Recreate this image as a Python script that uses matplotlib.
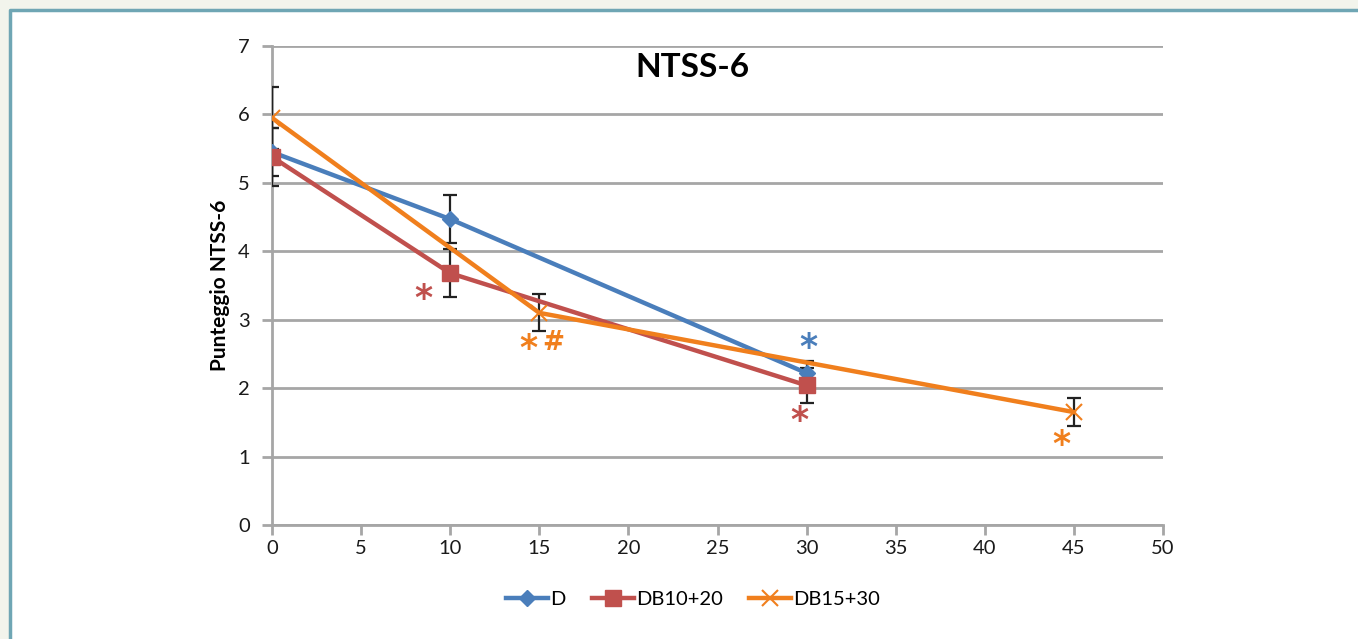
import matplotlib
matplotlib.use("Agg")
import matplotlib.pyplot as plt
from matplotlib.lines import Line2D

# Data
d_x = [0, 10, 30]
d_y = [5.45, 4.47, 2.22]
d_err = [0.35, 0.35, 0.18]

db1020_x = [0, 10, 30]
db1020_y = [5.38, 3.68, 2.04]
db1020_err = [0.42, 0.35, 0.26]

db1530_x = [0, 15, 45]
db1530_y = [5.95, 3.10, 1.65]
db1530_err = [0.45, 0.27, 0.21]

# significance marks: (x, y, text, series)
marks = [
    (8.5, 3.3, "*", "red"),
    (14.4, 2.57, "*", "orange"),
    (15.8, 2.66, "#", "orange"),
    (30.1, 2.58, "*", "blue"),
    (29.6, 1.52, "*", "red"),
    (44.3, 1.17, "*", "orange"),
]

blue = "#4a7ebb"
red = "#c0504d"
orange = "#f07f1d"
colors = {"blue": blue, "red": red, "orange": orange}

plt.rcParams['font.family'] = ['Lato', 'DejaVu Sans']

fig = plt.figure(figsize=(13.58, 6.39), dpi=100)
fig.patch.set_facecolor("white")
# light margin strip and teal frame on the top and left
fig.patches.append(plt.Rectangle((0, 0), 10 / 1358, 1, transform=fig.transFigure,
                                 facecolor="#f2f4ec", edgecolor="none", zorder=-5))
fig.patches.append(plt.Rectangle((0, 1 - 10 / 639), 1, 10 / 639, transform=fig.transFigure,
                                 facecolor="#f2f4ec", edgecolor="none", zorder=-5))
fig.lines.append(Line2D([10 / 1358, 10 / 1358, 1.05], [-0.05, 1 - 10 / 639, 1 - 10 / 639],
                        transform=fig.transFigure, color="#6fa6b4", lw=2.5))

ax = fig.add_axes([272 / 1358, 1 - 525 / 639, (1163 - 272) / 1358, (525 - 46) / 639])
ax.set_facecolor("white")

# error bars first
for x, y, e in [(d_x, d_y, d_err), (db1020_x, db1020_y, db1020_err), (db1530_x, db1530_y, db1530_err)]:
    ax.errorbar(x, y, yerr=e, fmt="none", ecolor="#222222", elinewidth=1.6,
                capsize=5, capthick=1.6, zorder=3)

ax.plot(d_x, d_y, color=blue, lw=3.2, marker="D", ms=8, label="D", zorder=4)
ax.plot(db1020_x, db1020_y, color=red, lw=3.2, marker="s", ms=12, label="DB10+20", zorder=4)
ax.plot(db1530_x, db1530_y, color=orange, lw=3.2, marker="x", ms=12, mew=1.5,
        label="DB15+30", zorder=5)

for x, y, t, c in marks:
    size = 25 if t == "*" else 19
    ax.text(x, y, t, color=colors[c], fontsize=size, fontweight="bold",
            ha="center", va="center", family=["DejaVu Sans"])

ax.text(23.6, 6.68, "NTSS-6", fontsize=24, fontweight="bold", ha="center", va="center")

ax.set_xlim(0, 50)
ax.set_ylim(0, 7)
ax.set_xticks(range(0, 51, 5))
ax.set_yticks(range(0, 8))
ax.grid(axis="y", color="#a6a6a6", lw=2)
ax.set_axisbelow(True)
for s in ["top", "right"]:
    ax.spines[s].set_visible(False)
for s in ["left", "bottom"]:
    ax.spines[s].set_color("#a6a6a6")
    ax.spines[s].set_linewidth(2)
ax.tick_params(axis="both", color="#a6a6a6", width=2, length=7, labelsize=14.5,
               labelcolor="#1a1a1a")
ax.tick_params(axis="y", pad=9)
ax.set_ylabel("Punteggio NTSS-6", fontsize=15, fontweight="bold", labelpad=6)

ax.legend(loc="upper center", bbox_to_anchor=(0.4725, -0.1), ncol=3, frameon=False,
          fontsize=14.5, handlelength=2.1, columnspacing=1.3, handletextpad=0.1)

fig.savefig("out.png", dpi=100, facecolor=fig.get_facecolor())
